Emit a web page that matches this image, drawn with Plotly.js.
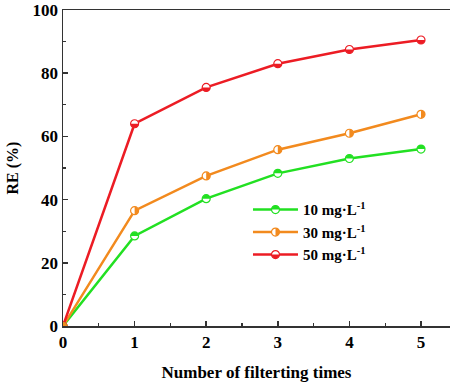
<!DOCTYPE html>
<html>
<head>
<meta charset="utf-8">
<script src="https://cdn.plot.ly/plotly-3.0.1.min.js"></script>
<style>
  html, body { margin: 0; padding: 0; background: #fff; }
  #chart { width: 450px; height: 387px; }
</style>
</head>
<body>
<div id="chart"></div>
<script>
// Removal efficiency versus number of filtering passes
const passes = [0, 1, 2, 3, 4, 5];
const re10 = [0, 28.5, 40.3, 48.3, 53.0, 56.0];
const re30 = [0, 36.5, 47.5, 55.8, 61.0, 67.0];
const re50 = [0, 64.0, 75.5, 83.0, 87.5, 90.5];
const seriesNames = ['10 mg·L<sup>-1</sup>', '30 mg·L<sup>-1</sup>', '50 mg·L<sup>-1</sup>'];

const colors = ['#22e022', '#f28a1e', '#ec1c24'];
// which half of each marker is filled
const halves = ['top', 'right', 'bottom'];

const serif = 'Liberation Serif, Times New Roman, serif';
const R = 4, K = 2.21;
// half-disc outlines, y pointing up (shape pixel space)
const halfPaths = {
  top: `M ${-R},0 C ${-R},${K} ${-K},${R} 0,${R} C ${K},${R} ${R},${K} ${R},0 Z`,
  bottom: `M ${-R},0 C ${-R},${-K} ${-K},${-R} 0,${-R} C ${K},${-R} ${R},${-K} ${R},0 Z`,
  right: `M 0,${-R} C ${K},${-R} ${R},${-K} ${R},0 C ${R},${K} ${K},${R} 0,${R} Z`
};
// the same outlines in SVG space (y pointing down)
const svgHalfPaths = {
  top: halfPaths.bottom,
  bottom: halfPaths.top,
  right: halfPaths.right
};

const allY = [re10, re30, re50];
const traces = allY.map((ys, i) => ({
  x: passes,
  y: ys,
  name: seriesNames[i],
  type: 'scatter',
  mode: 'lines+markers',
  line: { color: colors[i], width: 2.5 },
  marker: { symbol: 'circle', size: 8, color: '#ffffff', line: { color: colors[i], width: 1.2 } }
}));

// half-filled marker caps anchored at each data point
const shapes = [];
allY.forEach((ys, i) => {
  passes.forEach((xv, j) => {
    shapes.push({
      type: 'path', xref: 'x', yref: 'y',
      xsizemode: 'pixel', ysizemode: 'pixel',
      xanchor: xv, yanchor: ys[j],
      path: halfPaths[halves[i]],
      fillcolor: colors[i], line: { width: 0 }, layer: 'above'
    });
  });
});

const layout = {
  width: 450, height: 387,
  margin: { l: 63, r: 0, t: 10, b: 61 },
  paper_bgcolor: '#ffffff', plot_bgcolor: '#ffffff',
  font: { family: serif, color: '#000', size: 17, weight: 'bold' },
  showlegend: true,
  legend: {
    x: 0.478, y: 0.42, xanchor: 'left', yanchor: 'top',
    font: { family: serif, size: 15, color: '#000', weight: 'bold' },
    bgcolor: 'rgba(0,0,0,0)', itemwidth: 45, tracegroupgap: 0
  },
  xaxis: {
    range: [0, 5.405], tick0: 0, dtick: 1,
    showgrid: false, zeroline: false,
    showline: true, mirror: true, linecolor: '#333', linewidth: 1.5,
    ticks: 'inside', ticklen: 5, tickwidth: 1.5, tickcolor: '#333',
    minor: { dtick: 0.5, ticks: 'inside', ticklen: 3, tickwidth: 1.2, tickcolor: '#333' },
    tickfont: { family: serif, size: 17, color: '#000', weight: 'bold' },
    title: { text: 'Number of filterting times', font: { family: serif, size: 17, color: '#000', weight: 'bold' }, standoff: 15 }
  },
  yaxis: {
    range: [0, 100], tick0: 0, dtick: 20,
    showgrid: false, zeroline: false,
    showline: true, mirror: false, linecolor: '#333', linewidth: 1.5,
    ticks: 'inside', ticklen: 5, tickwidth: 1.5, tickcolor: '#333',
    minor: { dtick: 10, ticks: 'inside', ticklen: 3, tickwidth: 1.2, tickcolor: '#333' },
    tickfont: { family: serif, size: 17, color: '#000', weight: 'bold' },
    title: { text: 'RE (%)', font: { family: serif, size: 16, color: '#000', weight: 'bold' }, standoff: 10 }
  },
  shapes: shapes
};

const gd = document.getElementById('chart');
Plotly.newPlot(gd, traces, layout, { displayModeBar: false, staticPlot: true }).then(() => {
  // give the legend symbols the same half fill as the plotted markers
  const NS = 'http://www.w3.org/2000/svg';
  gd.querySelectorAll('.legend .traces').forEach((item, i) => {
    const pt = item.querySelector('.legendpoints path.scatterpts');
    if (!pt) return;
    const cap = document.createElementNS(NS, 'path');
    cap.setAttribute('d', svgHalfPaths[halves[i]]);
    const tf = pt.getAttribute('transform');
    if (tf) cap.setAttribute('transform', tf);
    cap.setAttribute('fill', colors[i]);
    pt.parentNode.appendChild(cap);
  });
});
</script>
</body>
</html>
